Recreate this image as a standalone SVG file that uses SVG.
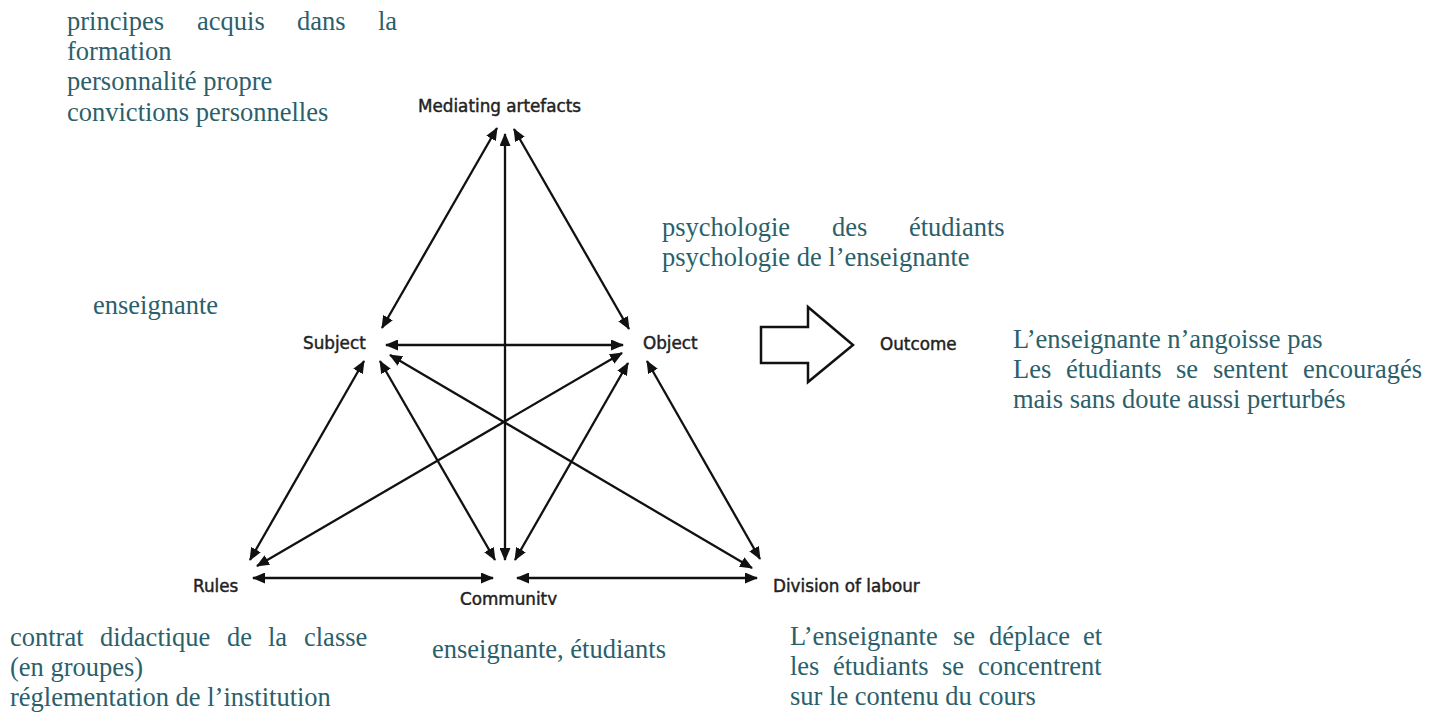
<svg xmlns="http://www.w3.org/2000/svg" width="1437" height="716" viewBox="0 0 1437 716">
  <style>
    .lbl { font-family: "DejaVu Sans", sans-serif; font-size: 16.8px; fill: #222; stroke: #222; stroke-width: 0.45; }
    .ann { font-family: "Liberation Serif", "Times New Roman", serif; font-size: 26.5px; fill: #2b5f6b; }
    .con { stroke: #111; stroke-width: 2.3; fill: none; marker-start: url(#ah); marker-end: url(#ah); }
  </style>
  <defs>
    <marker id="ah" markerUnits="userSpaceOnUse" markerWidth="13" markerHeight="11" viewBox="0 0 13 11" refX="12" refY="5.5" orient="auto-start-reverse">
      <path d="M0,0 L13,5.5 L0,11 z" fill="#111"/>
    </marker>
    <clipPath id="cut"><rect x="0" y="0" width="1437" height="605"/></clipPath>
  </defs>
  <rect width="1437" height="716" fill="#fff"/>

  <g id="connectors">
    <line class="con" x1="497" y1="128" x2="382" y2="328"/>
    <line class="con" x1="505" y1="134" x2="505" y2="560"/>
    <line class="con" x1="514" y1="129" x2="629" y2="329"/>
    <line class="con" x1="386" y1="345" x2="623" y2="345"/>
    <line class="con" x1="364" y1="361" x2="250" y2="560"/>
    <line class="con" x1="380" y1="361" x2="495" y2="560"/>
    <line class="con" x1="390" y1="355" x2="752" y2="568"/>
    <line class="con" x1="622" y1="353" x2="257" y2="566"/>
    <line class="con" x1="628" y1="363" x2="515" y2="560"/>
    <line class="con" x1="647" y1="361" x2="760" y2="559"/>
    <line class="con" x1="253" y1="578" x2="493" y2="578"/>
    <line class="con" x1="517" y1="578" x2="757" y2="578"/>
    <polygon points="761,327 808,327 808,307 853,345 808,382 808,363 761,363" fill="#fff" stroke="#111" stroke-width="2.5" stroke-linejoin="miter"/>
  </g>

  <g id="node-mediating"><text class="lbl" x="418" y="112">Mediating artefacts</text></g>
  <g id="node-subject"><text class="lbl" x="303" y="349">Subject</text></g>
  <g id="node-object"><text class="lbl" x="643" y="349">Object</text></g>
  <g id="node-outcome"><text class="lbl" x="880" y="350">Outcome</text></g>
  <g id="node-rules"><text class="lbl" x="193" y="592">Rules</text></g>
  <g id="node-community" clip-path="url(#cut)"><text class="lbl" x="460" y="605">Community</text></g>
  <g id="node-division"><text class="lbl" x="773" y="592">Division of labour</text></g>

  <g id="ann-mediating">
    <text class="ann"><tspan x="67" y="29.5">principes</tspan><tspan x="197" y="29.5">acquis</tspan><tspan x="297" y="29.5">dans</tspan><tspan x="378" y="29.5">la</tspan><tspan x="67" y="59.5">formation</tspan><tspan x="67" y="90">personnalité propre</tspan><tspan x="67" y="120.5">convictions personnelles</tspan></text>
  </g>
  <g id="ann-object">
    <text class="ann"><tspan x="662" y="236">psychologie</tspan><tspan x="832" y="236">des</tspan><tspan x="909" y="236">étudiants</tspan><tspan x="662" y="266">psychologie de l’enseignante</tspan></text>
  </g>
  <g id="ann-subject">
    <text class="ann" x="93" y="314">enseignante</text>
  </g>
  <g id="ann-outcome">
    <text class="ann"><tspan x="1013" y="348">L’enseignante n’angoisse pas</tspan><tspan x="1013" y="378">Les</tspan><tspan x="1066" y="378">étudiants</tspan><tspan x="1176" y="378">se</tspan><tspan x="1213" y="378">sentent</tspan><tspan x="1303" y="378">encouragés</tspan><tspan x="1013" y="408">mais sans doute aussi perturbés</tspan></text>
  </g>
  <g id="ann-rules">
    <text class="ann"><tspan x="10" y="646">contrat</tspan><tspan x="100" y="646">didactique</tspan><tspan x="227" y="646">de</tspan><tspan x="268" y="646">la</tspan><tspan x="304" y="646">classe</tspan><tspan x="10" y="676">(en groupes)</tspan><tspan x="10" y="706">réglementation de l’institution</tspan></text>
  </g>
  <g id="ann-community">
    <text class="ann" x="432" y="658">enseignante, étudiants</text>
  </g>
  <g id="ann-division">
    <text class="ann"><tspan x="790" y="645">L’enseignante</tspan><tspan x="953" y="645">se</tspan><tspan x="989" y="645">déplace</tspan><tspan x="1083" y="645">et</tspan><tspan x="790" y="675">les</tspan><tspan x="833" y="675">étudiants</tspan><tspan x="942" y="675">se</tspan><tspan x="978" y="675">concentrent</tspan><tspan x="790" y="705">sur le contenu du cours</tspan></text>
  </g>
</svg>
